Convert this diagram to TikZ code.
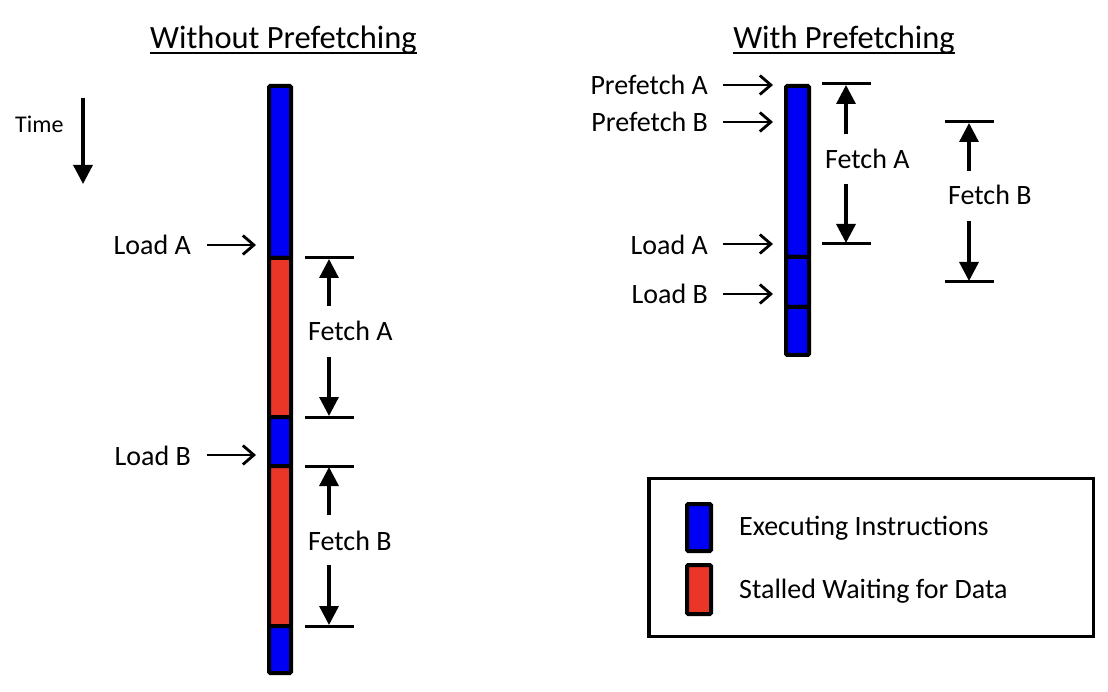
\documentclass[tikz,border=0pt]{standalone}
\usepackage{fontspec}
\setmainfont{Carlito}
\usetikzlibrary{arrows.meta}
\definecolor{execblue}{RGB}{0,0,245}
\definecolor{stallred}{RGB}{234,54,38}
\begin{document}
\begin{tikzpicture}[x=1pt,y=-1pt,
 seg/.style={draw=black,line width=4pt,rounded corners=1.2pt},
 exec/.style={seg,fill=execblue},
 stall/.style={seg,fill=stallred},
 lbl/.style={font=\fontsize{28}{33}\selectfont,inner sep=0pt},
 small/.style={font=\fontsize{24}{29}\selectfont,inner sep=0pt},
 ttl/.style={font=\fontsize{32.5}{38}\selectfont,inner sep=0pt},
 ptr/.style={line width=2.8pt,-{Straight Barb[length=11pt,width=19pt,line width=2.8pt]}},
 dim/.style={line width=3.3pt,-{Triangle[length=19pt,width=19pt]}},
 tick/.style={line width=3pt},
 frame/.style={draw=black,line width=3.2pt},
]
\useasboundingbox (0,0) rectangle (1108,692);

% ---------- titles ----------
\node[ttl,anchor=base] (t1) at (283.5,49) {Without Prefetching};
\draw[line width=2.2pt] (t1.base west) ++(0,4) coordinate (u1a) -- (t1.base east |- u1a);
\node[ttl,anchor=base] (t2) at (844,49) {With Prefetching};
\draw[line width=2.2pt] (t2.base west) ++(0,4) coordinate (u2a) -- (t2.base east |- u2a);

% ---------- time ----------
\node[small,anchor=base west] (time) at (15,133) {Time};
\coordinate (timeA) at (83,98);
\coordinate (timeB) at (83,184);
\draw[dim] (timeA) -- (timeB);

% ---------- left bar ----------
\draw[exec]  (269,86)  rectangle (291,258);
\draw[stall] (269,258) rectangle (291,417);
\draw[exec]  (269,417) rectangle (291,466);
\draw[stall] (269,466) rectangle (291,626);
\draw[exec]  (269,626) rectangle (291,673);

\node[lbl,anchor=base east] (lA) at (191,255) {Load A};
\coordinate (lAe) at (256,245);
\draw[ptr] (lA.east |- lAe) ++(16,0) -- (lAe);
\node[lbl,anchor=base east] (lB) at (191,465) {Load B};
\coordinate (lBe) at (256,455);
\draw[ptr] (lB.east |- lBe) ++(16,0) -- (lBe);

% Fetch A (left)
\coordinate (fa1a) at (305,258); \coordinate (fa1b) at (354,258);
\coordinate (fa2a) at (305,417); \coordinate (fa2b) at (354,417);
\draw[tick] (fa1a) -- (fa1b);
\draw[tick] (fa2a) -- (fa2b);
\node[lbl,anchor=base west] (fA) at (308,341) {Fetch A};
\coordinate (faU) at (329,306);
\coordinate (faD) at (329,357);
\draw[dim] (faU) -- (329,259);
\draw[dim] (faD) -- (329,416);

% Fetch B (left)
\coordinate (fb1a) at (305,466); \coordinate (fb1b) at (354,466);
\coordinate (fb2a) at (305,626); \coordinate (fb2b) at (354,626);
\draw[tick] (fb1a) -- (fb1b);
\draw[tick] (fb2a) -- (fb2b);
\node[lbl,anchor=base west] (fB) at (308,550) {Fetch B};
\coordinate (fbU) at (329,515);
\coordinate (fbD) at (329,565);
\draw[dim] (fbU) -- (329,467);
\draw[dim] (fbD) -- (329,625);

% ---------- right bar ----------
\draw[exec] (786,86)  rectangle (809,257);
\draw[exec] (786,257) rectangle (809,307);
\draw[exec] (786,307) rectangle (809,355);

\node[lbl,anchor=base east] (pA) at (708,95) {Prefetch A};
\coordinate (pAe) at (773,85);
\draw[ptr] (pA.east |- pAe) ++(15,0) -- (pAe);
\node[lbl,anchor=base east] (pB) at (708,132) {Prefetch B};
\coordinate (pBe) at (773,122);
\draw[ptr] (pB.east |- pBe) ++(15,0) -- (pBe);
\node[lbl,anchor=base east] (rA) at (708,255) {Load A};
\coordinate (rAe) at (773,244);
\draw[ptr] (rA.east |- rAe) ++(15,0) -- (rAe);
\node[lbl,anchor=base east] (rB) at (708,304) {Load B};
\coordinate (rBe) at (773,294);
\draw[ptr] (rB.east |- rBe) ++(15,0) -- (rBe);

% Fetch A (right)
\draw[tick] (822,84) -- (871,84);
\draw[tick] (822,244) -- (871,244);
\node[lbl,anchor=base west] (rfA) at (825,169) {Fetch A};
\coordinate (rfaU) at (846,134);
\coordinate (rfaD) at (846,184);
\draw[dim] (rfaU) -- (846,85);
\draw[dim] (rfaD) -- (846,243);

% Fetch B (right)
\draw[tick] (945,122) -- (994,122);
\draw[tick] (945,282) -- (994,282);
\node[lbl,anchor=base west] (rfB) at (948,205) {Fetch B};
\coordinate (rfbU) at (969,171);
\coordinate (rfbD) at (969,221);
\draw[dim] (rfbU) -- (969,123);
\draw[dim] (rfbD) -- (969,281);

% ---------- legend ----------
\draw[frame] (649,478.5) rectangle (1093.5,636.5);
\draw[exec]  (687,504) rectangle (711,551);
\draw[stall] (687,565) rectangle (711,614);
\node[lbl,anchor=base west] (lg1) at (739,535) {Executing Instructions};
\node[lbl,anchor=base west] (lg2) at (739,598) {Stalled Waiting for Data};
\end{tikzpicture}
\end{document}
